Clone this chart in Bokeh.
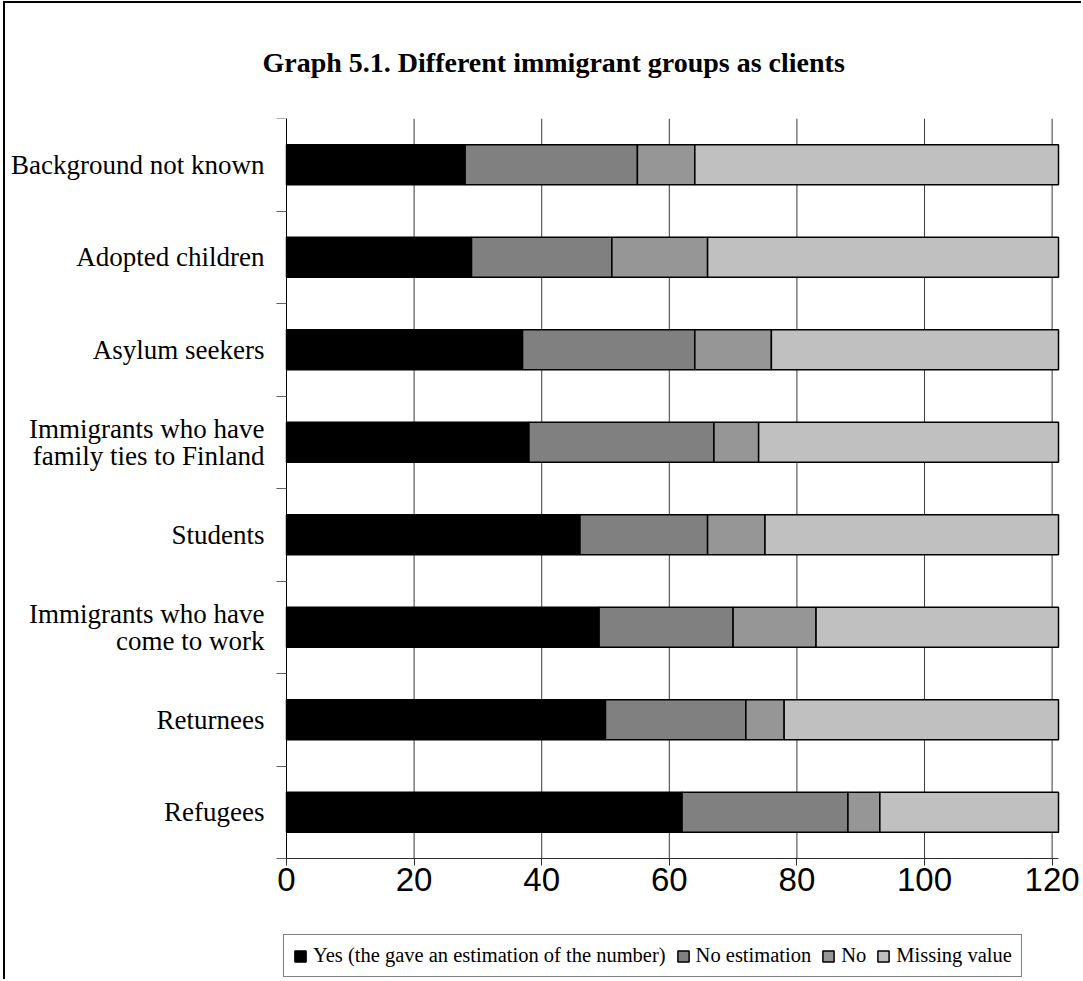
from bokeh.plotting import figure
from bokeh.models import (Range1d, FixedTicker, Legend, LegendItem,
                          ColumnDataSource, Title)
from bokeh.embed import file_html
from bokeh.resources import INLINE

# Groups, listed from top to bottom
categories = [
    "Background not known",
    "Adopted children",
    "Asylum seekers",
    "Immigrants who have\nfamily ties to Finland",
    "Students",
    "Immigrants who have\ncome to work",
    "Returnees",
    "Refugees",
]
yes_estimate = [28, 29, 37, 38, 46, 49, 50, 62]
no_estimate = [27, 22, 27, 29, 20, 21, 22, 26]
no_answer = [9, 15, 12, 7, 9, 13, 6, 5]
missing = [57, 55, 45, 47, 46, 38, 43, 28]

series_names = ["Yes (the gave an estimation of the number)",
                "No estimation", "No", "Missing value"]
x_ticks = [0, 20, 40, 60, 80, 100, 120]
x_max = 121

colors = ["#000000", "#808080", "#969696", "#c0c0c0"]
keys = ["yes", "noest", "no", "missing"]

n = len(categories)
ypos = [n - 1 - i + 0.5 for i in range(n)]
source = ColumnDataSource(dict(y=ypos, yes=yes_estimate, noest=no_estimate,
                               no=no_answer, missing=missing))

# canvas and bar-area geometry (pixels)
W, H = 1078, 978
TOP = 115                 # space for the title
AREA_LEFT, AREA_W = 281, 772
ROW_PX = 92.5
AREA_BOTTOM = TOP + n * ROW_PX
px_per_unit = AREA_W / x_max

x_range = Range1d(-AREA_LEFT / px_per_unit,
                  x_max + (W - AREA_LEFT - AREA_W) / px_per_unit)
y_range = Range1d(-(H - AREA_BOTTOM) / ROW_PX, n)

p = figure(width=W, height=H, output_backend="svg", toolbar_location=None,
           x_range=x_range, y_range=y_range,
           min_border_left=0, min_border_right=0,
           min_border_top=TOP, min_border_bottom=0, title=None)
p.styles = {"border-left": "2px solid black", "border-top": "2px solid black",
            "margin-left": "3px", "margin-top": "1px"}
p.outline_line_color = None
p.background_fill_color = "white"
p.border_fill_color = "white"

# vertical grid lines limited to the bar area
p.xgrid.visible = False
p.ygrid.visible = False
p.segment(x0=x_ticks, y0=[0] * len(x_ticks), x1=x_ticks, y1=[n] * len(x_ticks),
          line_color="#3a3a3a", line_width=1)

renderers = p.hbar_stack(keys, y="y", height=0.43, color=colors,
                         line_color="black", line_width=1.5, source=source)

# x axis at the bottom of the bar area
xa = p.xaxis[0]
xa.fixed_location = 0
xa.bounds = (0, x_max)
xa.ticker = FixedTicker(ticks=x_ticks)
xa.axis_line_color = "#303030"
xa.major_tick_line_color = "#303030"
xa.major_tick_out = 7
xa.major_tick_in = 0
xa.minor_tick_line_color = None
xa.major_label_text_font = "Liberation Sans"
xa.major_label_text_font_size = "33px"
xa.major_label_text_color = "black"
xa.major_label_standoff = 2

# y axis: group names at bar centres, short marks at group boundaries
ya = p.yaxis[0]
ya.fixed_location = 0
ya.bounds = (0, n)
ya.ticker = FixedTicker(ticks=ypos, minor_ticks=list(range(n + 1)))
ya.major_label_overrides = {y: cat for y, cat in zip(ypos, categories)}
ya.major_label_text_font = "Liberation Serif"
ya.major_label_text_font_size = "27px"
ya.major_label_text_color = "black"
ya.major_label_text_line_height = 0.9
ya.major_label_standoff = 12
ya.axis_line_color = "black"
ya.major_tick_line_color = None
ya.major_tick_out = 0
ya.major_tick_in = 0
ya.minor_tick_line_color = "#606060"
ya.minor_tick_out = 10
ya.minor_tick_in = 0

# title
p.add_layout(Title(text="Graph 5.1. Different immigrant groups as clients",
                   align="left", offset=257, standoff=82,
                   text_font="Liberation Serif", text_font_style="bold",
                   text_font_size="28px", text_color="black"), "above")

legend = Legend(items=[LegendItem(label=name, renderers=[r])
                       for name, r in zip(series_names, renderers)],
                location=(278, 4), orientation="horizontal",
                label_text_font="Liberation Serif", label_text_font_size="20.5px",
                label_text_color="black", glyph_width=14, glyph_height=14,
                label_standoff=6, spacing=10, padding=9, margin=0,
                border_line_color="black", border_line_width=1.2,
                background_fill_color="white", background_fill_alpha=1)
p.add_layout(legend, "center")

open("out.html", "w").write(file_html(p, INLINE))
